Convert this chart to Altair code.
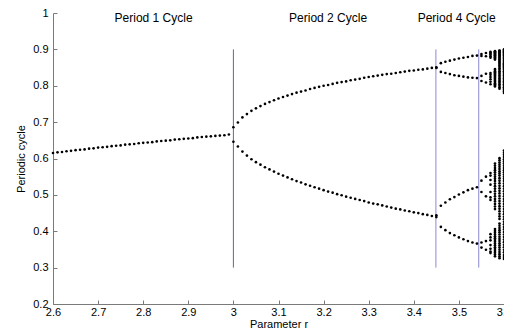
import altair as alt
import pandas as pd

# ---- data ----
R1 = [2.60, 2.61, 2.62, 2.63, 2.64, 2.65, 2.66, 2.67, 2.68, 2.69,
      2.70, 2.71, 2.72, 2.73, 2.74, 2.75, 2.76, 2.77, 2.78, 2.79,
      2.80, 2.81, 2.82, 2.83, 2.84, 2.85, 2.86, 2.87, 2.88, 2.89,
      2.90, 2.91, 2.92, 2.93, 2.94, 2.95, 2.96, 2.97, 2.98, 2.99]
X1 = [0.615, 0.617, 0.618, 0.620, 0.621, 0.623, 0.624, 0.625, 0.627, 0.628,
      0.630, 0.631, 0.632, 0.634, 0.635, 0.636, 0.638, 0.639, 0.640, 0.642,
      0.643, 0.644, 0.645, 0.647, 0.648, 0.649, 0.650, 0.652, 0.653, 0.654,
      0.655, 0.656, 0.658, 0.659, 0.660, 0.661, 0.662, 0.663, 0.664, 0.666]

R2 = [3.00, 3.01, 3.02, 3.03, 3.04, 3.05, 3.06, 3.07, 3.08, 3.09,
      3.10, 3.11, 3.12, 3.13, 3.14, 3.15, 3.16, 3.17, 3.18, 3.19,
      3.20, 3.21, 3.22, 3.23, 3.24, 3.25, 3.26, 3.27, 3.28, 3.29,
      3.30, 3.31, 3.32, 3.33, 3.34, 3.35, 3.36, 3.37, 3.38, 3.39,
      3.40, 3.41, 3.42, 3.43, 3.44]
X2_UP = [0.686, 0.699, 0.713, 0.722, 0.731, 0.738, 0.744, 0.750, 0.755, 0.760,
         0.765, 0.769, 0.773, 0.777, 0.781, 0.784, 0.787, 0.791, 0.794, 0.797,
         0.800, 0.802, 0.805, 0.808, 0.810, 0.812, 0.815, 0.817, 0.819, 0.822,
         0.824, 0.826, 0.828, 0.830, 0.832, 0.833, 0.835, 0.837, 0.839, 0.841,
         0.842, 0.844, 0.845, 0.847, 0.849]
X2_LO = [0.646, 0.633, 0.619, 0.608, 0.598, 0.590, 0.583, 0.576, 0.570, 0.564,
         0.558, 0.553, 0.548, 0.543, 0.538, 0.534, 0.529, 0.525, 0.521, 0.517,
         0.513, 0.509, 0.506, 0.502, 0.499, 0.495, 0.492, 0.489, 0.486, 0.483,
         0.479, 0.476, 0.474, 0.471, 0.468, 0.465, 0.462, 0.460, 0.457, 0.455,
         0.452, 0.450, 0.447, 0.445, 0.442]

R4 = [3.45, 3.46, 3.47, 3.48, 3.49, 3.50, 3.51, 3.52, 3.53, 3.54]
X4_A = [0.851, 0.862, 0.866, 0.869, 0.872, 0.875, 0.877, 0.879, 0.882, 0.883]
X4_B = [0.849, 0.838, 0.835, 0.832, 0.829, 0.827, 0.825, 0.823, 0.822, 0.821]
X4_C = [0.444, 0.470, 0.479, 0.488, 0.494, 0.501, 0.507, 0.513, 0.517, 0.521]
X4_D = [0.439, 0.412, 0.403, 0.395, 0.389, 0.383, 0.378, 0.373, 0.369, 0.366]

COLS_R = [3.55, 3.56, 3.57, 3.58, 3.59, 3.60]
COLS_X = [
    [0.887, 0.882, 0.827, 0.813, 0.539, 0.508, 0.369, 0.355],
    [0.890, 0.881, 0.833, 0.809, 0.550, 0.496, 0.373, 0.349],
    [0.893, 0.891, 0.888, 0.885, 0.881, 0.877, 0.835, 0.830, 0.824, 0.818,
     0.811, 0.804, 0.560, 0.553, 0.541, 0.528, 0.508, 0.493, 0.486, 0.392,
     0.383, 0.375, 0.362, 0.352, 0.344, 0.340],
    [0.895, 0.894, 0.892, 0.891, 0.889, 0.887, 0.886, 0.884, 0.882, 0.880,
     0.878, 0.876, 0.874, 0.872, 0.846, 0.843, 0.840, 0.837, 0.834, 0.831,
     0.828, 0.825, 0.822, 0.819, 0.816, 0.813, 0.810, 0.807, 0.804, 0.801,
     0.798, 0.586, 0.580, 0.574, 0.568, 0.562, 0.556, 0.550, 0.544, 0.538,
     0.531, 0.524, 0.517, 0.510, 0.503, 0.496, 0.489, 0.482, 0.475, 0.468,
     0.461, 0.406, 0.401, 0.396, 0.391, 0.386, 0.381, 0.376, 0.371, 0.366,
     0.361, 0.356, 0.351, 0.346, 0.341, 0.336, 0.331],
    [0.897, 0.896, 0.894, 0.892, 0.890, 0.888, 0.886, 0.884, 0.881, 0.878,
     0.875, 0.872, 0.869, 0.866, 0.863, 0.860, 0.856, 0.852, 0.848, 0.844,
     0.840, 0.836, 0.832, 0.828, 0.824, 0.820, 0.816, 0.812, 0.808, 0.804,
     0.800, 0.796, 0.792, 0.601, 0.595, 0.589, 0.583, 0.577, 0.571, 0.565,
     0.559, 0.553, 0.546, 0.539, 0.532, 0.525, 0.518, 0.511, 0.504, 0.497,
     0.490, 0.483, 0.476, 0.469, 0.462, 0.455, 0.448, 0.441, 0.434, 0.421,
     0.415, 0.409, 0.403, 0.397, 0.391, 0.385, 0.379, 0.373, 0.367, 0.361,
     0.355, 0.349, 0.343, 0.337, 0.331, 0.326],
    [0.900, 0.898, 0.896, 0.894, 0.892, 0.889, 0.886, 0.883, 0.880, 0.877,
     0.874, 0.871, 0.868, 0.865, 0.862, 0.859, 0.856, 0.853, 0.850, 0.847,
     0.844, 0.840, 0.836, 0.832, 0.828, 0.824, 0.820, 0.816, 0.812, 0.808,
     0.804, 0.800, 0.796, 0.792, 0.788, 0.784, 0.780, 0.622, 0.616, 0.610,
     0.604, 0.598, 0.592, 0.586, 0.580, 0.574, 0.568, 0.562, 0.556, 0.550,
     0.544, 0.538, 0.531, 0.524, 0.517, 0.510, 0.503, 0.496, 0.489, 0.482,
     0.475, 0.468, 0.461, 0.454, 0.447, 0.440, 0.433, 0.426, 0.419, 0.412,
     0.405, 0.398, 0.391, 0.384, 0.377, 0.370, 0.363, 0.356, 0.349, 0.342,
     0.335, 0.329, 0.324],
]

RULE_DARK_R = [3.0]
RULE_LIGHT_R = [3.449, 3.544]
RULE_Y0 = 0.3
RULE_Y1 = 0.9

LABELS = ["Period 1 Cycle", "Period 2 Cycle", "Period 4 Cycle"]
LABEL_R = [2.823, 3.21, 3.495]
LABEL_Y = 0.987

X_TICKS = [2.6, 2.7, 2.8, 2.9, 3.0, 3.1, 3.2, 3.3, 3.4, 3.5, 3.6]
Y_TICKS = [0.2, 0.3, 0.4, 0.5, 0.6, 0.7, 0.8, 0.9, 1.0]

# ---- tables ----
rows = []
for r, x in zip(R1, X1):
    rows.append((r, x))
for r, a, b in zip(R2, X2_UP, X2_LO):
    rows += [(r, a), (r, b)]
for r, a, b, c, d in zip(R4, X4_A, X4_B, X4_C, X4_D):
    rows += [(r, a), (r, b), (r, c), (r, d)]
for r, xs in zip(COLS_R, COLS_X):
    rows += [(r, x) for x in xs]
pts = pd.DataFrame(rows, columns=["r", "x"])

rules_dark = pd.DataFrame({"r": RULE_DARK_R, "y0": RULE_Y0, "y1": RULE_Y1})
rules_light = pd.DataFrame({"r": RULE_LIGHT_R, "y0": RULE_Y0, "y1": RULE_Y1})
labels = pd.DataFrame({"t": LABELS, "r": LABEL_R, "y": LABEL_Y})

FONT = "Liberation Sans"
W, H = 451, 291
xs = alt.Scale(domain=[2.6, 3.6], nice=False, zero=False)
ys = alt.Scale(domain=[0.2, 1.0], nice=False, zero=False)

main_x = alt.Axis(orient="bottom", values=X_TICKS, format="~g", ticks=False,
                  grid=False, domainColor="#7a7a7a", labelColor="black",
                  labelFont=FONT, labelFontSize=11, labelPadding=2,
                  labelFlush=False, labelOverlap=False, labelBound=False,
                  title="Parameter r", titleFont=FONT, titleFontSize=11,
                  titleFontWeight="normal", titleColor="black", titlePadding=1)
main_y = alt.Axis(orient="left", values=Y_TICKS, format="~g", ticks=False,
                  grid=False, domainColor="#7a7a7a", labelColor="black",
                  labelFont=FONT, labelFontSize=11, labelPadding=5,
                  labelFlush=False, labelOverlap=False, labelBound=False,
                  title="Periodic cycle", titleFont=FONT, titleFontSize=11,
                  titleFontWeight="normal", titleColor="black", titlePadding=6)
tick_x = alt.Axis(orient="top", offset=-H, values=X_TICKS, labels=False,
                  domain=False, grid=False, ticks=True, tickSize=4,
                  tickColor="#7a7a7a", title=None)
tick_y = alt.Axis(orient="right", offset=-W, values=Y_TICKS, labels=False,
                  domain=False, grid=False, ticks=True, tickSize=4,
                  tickColor="#7a7a7a", title=None)

dark = alt.Chart(rules_dark).mark_rule(color="#6262b4", strokeWidth=1).encode(
    x=alt.X("r:Q", scale=xs, axis=None),
    y=alt.Y("y0:Q", scale=ys, axis=None),
    y2="y1:Q",
)
light = alt.Chart(rules_light).mark_rule(color="#8a8ad2", strokeWidth=1).encode(
    x=alt.X("r:Q", scale=xs, axis=None),
    y=alt.Y("y0:Q", scale=ys, axis=None),
    y2="y1:Q",
)
dots = alt.Chart(pts).mark_circle(color="black", size=7, opacity=1).encode(
    x=alt.X("r:Q", scale=xs, axis=main_x),
    y=alt.Y("x:Q", scale=ys, axis=main_y),
)
text = alt.Chart(labels).mark_text(font=FONT, fontSize=12, color="black",
                                   baseline="middle", align="center").encode(
    x=alt.X("r:Q", scale=xs, axis=tick_x),
    y=alt.Y("y:Q", scale=ys, axis=tick_y),
    text="t:N",
)

chart = alt.layer(dark, light, dots, text).resolve_axis(
    x="independent", y="independent"
).properties(
    width=W, height=H,
    padding={"left": 45, "top": 5, "right": 0, "bottom": 27},
    autosize="none",
    background="white",
).configure_view(strokeWidth=0)

chart.save("out.html", embed_options={"renderer": "svg", "actions": False})
